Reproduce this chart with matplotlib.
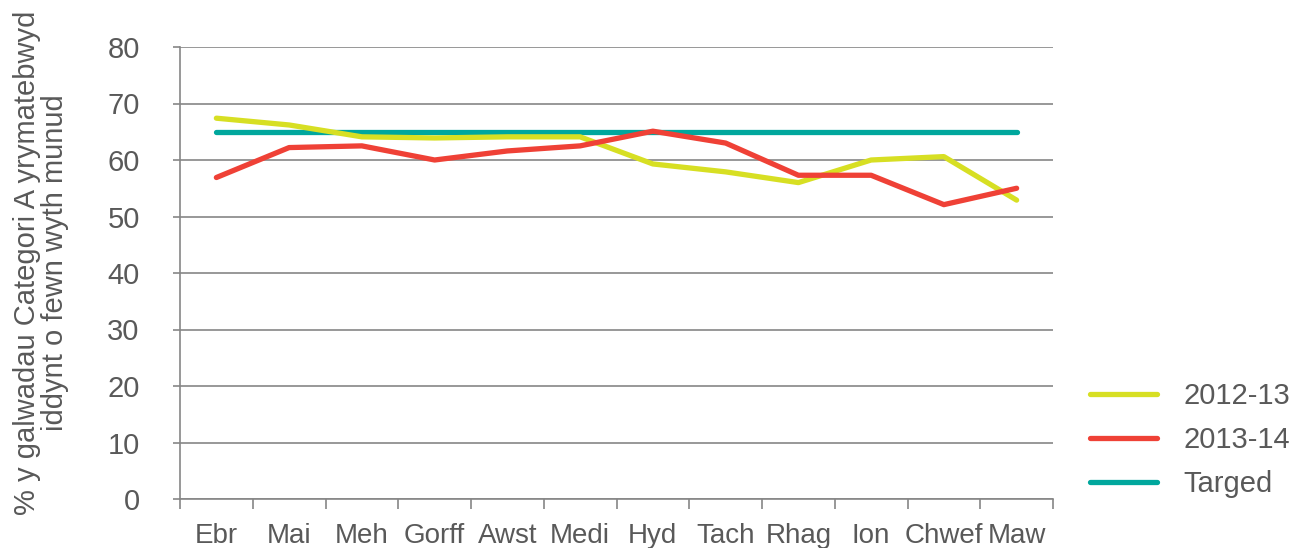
import matplotlib
matplotlib.use("Agg")
import matplotlib.pyplot as plt
import numpy as np

# Données
months = ["Ebr", "Mai", "Meh", "Gorff", "Awst", "Medi", "Hyd", "Tach", "Rhag", "Ion", "Chwef", "Maw"]
y2012_13 = [67.4, 66.2, 64.1, 63.9, 64.1, 64.1, 59.3, 57.9, 56.0, 60.0, 60.6, 52.9]
y2013_14 = [56.9, 62.2, 62.5, 60.0, 61.6, 62.5, 65.1, 63.0, 57.3, 57.3, 52.1, 55.0]
target = [65] * len(months)
y_ticks = [0, 10, 20, 30, 40, 50, 60, 70, 80]

TEXT = "#595959"
GRID = "#868686"
FS = 21

plt.rcParams['font.family'] = ['Liberation Sans', 'DejaVu Sans']

fig = plt.figure(figsize=(13.03, 5.48), dpi=100)
ax = fig.add_axes([180 / 1303, 1 - 499 / 548, (1053 - 180) / 1303, (499 - 47) / 548])

x = np.arange(len(months))
lw = 3.8
ax.plot(x, y2012_13, color="#d7df23", lw=lw, solid_capstyle="round", solid_joinstyle="round", label="2012-13", zorder=3)
ax.plot(x, y2013_14, color="#ef4136", lw=lw, solid_capstyle="round", solid_joinstyle="round", label="2013-14", zorder=4)
ax.plot(x, target, color="#00a79d", lw=lw, solid_capstyle="round", label="Targed", zorder=2)

ax.set_xlim(-0.5, len(months) - 0.5)
ax.set_ylim(0, 80)
ax.set_yticks(y_ticks)
ax.grid(axis="y", color=GRID, lw=1.2)
ax.set_axisbelow(True)

for s in ["top", "right"]:
    ax.spines[s].set_visible(False)
for s in ["left", "bottom"]:
    ax.spines[s].set_color(GRID)
    ax.spines[s].set_linewidth(1.2)

# graduations x aux limites des catégories, étiquettes au centre
ax.set_xticks(x)
ax.set_xticklabels(months)
ax.set_xticks(np.arange(len(months) + 1) - 0.5, minor=True)
ax.tick_params(axis="x", which="major", length=0, pad=17, labelsize=FS - 1, labelcolor=TEXT)
ax.tick_params(axis="x", which="minor", length=7, width=1.2, color=GRID)
ax.tick_params(axis="y", length=5, width=1.2, color=GRID, pad=24, labelsize=FS, labelcolor=TEXT)

ax.set_ylabel("% y galwadau Categori A yrymatebwyd\niddynt o fewn wyth munud",
              fontsize=FS, color=TEXT, linespacing=1.0)
ax.yaxis.set_label_coords(-0.127, 0.522)

fig.legend(loc="center left", bbox_to_anchor=(1090 / 1303, 1 - 440 / 548),
           frameon=False, fontsize=FS, labelcolor=TEXT, handlelength=2.3,
           handletextpad=0.9, labelspacing=0.55, borderpad=0, borderaxespad=0)

fig.savefig("out.png", dpi=100)
